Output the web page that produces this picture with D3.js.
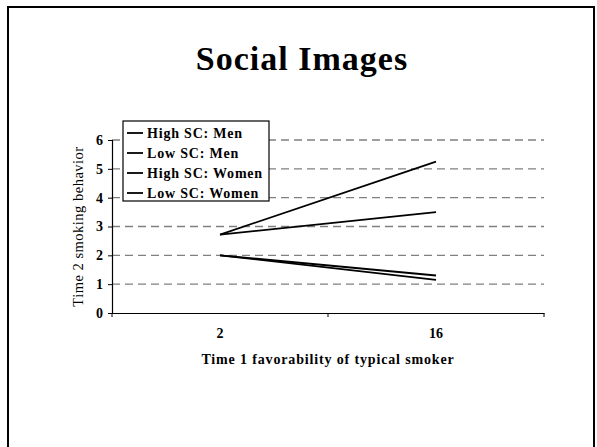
<!DOCTYPE html>
<html>
<head>
<meta charset="utf-8">
<script src="https://cdn.jsdelivr.net/npm/d3@7"></script>
<style>
  body { margin: 0; background: #fff; }
  text { font-family: "Liberation Serif", "Times New Roman", serif; font-weight: bold; fill: #000; }
</style>
</head>
<body>
<div id="chart"></div>
<script>
const categories = ["2", "16"];
const seriesNames = ["High SC: Men", "Low SC: Men", "High SC: Women", "Low SC: Women"];
const highMen = [2.72, 3.5];
const lowMen = [2.0, 1.15];
const highWomen = [2.72, 5.25];
const lowWomen = [2.0, 1.3];
const yTicks = [0, 1, 2, 3, 4, 5, 6];

const series = [highMen, lowMen, highWomen, lowWomen];

const width = 597, height = 447;
const margin = {left: 112, right: 53, top: 140, bottom: 134};

const svg = d3.select("#chart").append("svg")
    .attr("width", width)
    .attr("height", height);

// slide frame
svg.append("rect")
    .attr("x", 8).attr("y", 7)
    .attr("width", 586).attr("height", 460)
    .attr("fill", "none")
    .attr("stroke", "#000")
    .attr("stroke-width", 2);

svg.append("text")
    .attr("x", 302).attr("y", 70)
    .attr("text-anchor", "middle")
    .attr("font-size", 34)
    .attr("letter-spacing", 1)
    .text("Social Images");

const x = d3.scaleBand()
    .domain(categories)
    .range([margin.left, width - margin.right]);

const y = d3.scaleLinear()
    .domain([0, 6])
    .range([height - margin.bottom, margin.top]);

// dashed gridlines
svg.append("g")
    .selectAll("line")
    .data(yTicks.filter(d => d > 0))
    .join("line")
    .attr("x1", margin.left)
    .attr("x2", width - margin.right)
    .attr("y1", d => y(d))
    .attr("y2", d => y(d))
    .attr("stroke", "#808080")
    .attr("stroke-width", 1.3)
    .attr("stroke-dasharray", "8,5");

// y axis
const yAxis = svg.append("g")
    .attr("transform", `translate(${margin.left},0)`)
    .call(d3.axisLeft(y).tickValues(yTicks).tickSize(4).tickPadding(5).tickFormat(d3.format("d")));
yAxis.selectAll("text").attr("font-size", 14);

// x axis with ticks at category boundaries
const xAxis = svg.append("g")
    .attr("transform", `translate(0,${y(0)})`)
    .call(d3.axisBottom(x).tickSize(0).tickPadding(15));
xAxis.selectAll("text").attr("font-size", 14);
xAxis.selectAll(".boundary")
    .data(d3.range(categories.length + 1))
    .join("line")
    .attr("class", "boundary")
    .attr("x1", i => margin.left + i * x.step())
    .attr("x2", i => margin.left + i * x.step())
    .attr("y1", 0).attr("y2", 4)
    .attr("stroke", "#000");

svg.selectAll(".domain").attr("stroke", "#000").attr("stroke-width", 1.2);

svg.append("text")
    .attr("x", (margin.left + width - margin.right) / 2)
    .attr("y", 364)
    .attr("text-anchor", "middle")
    .attr("font-size", 14)
    .attr("letter-spacing", 0.85)
    .text("Time 1 favorability of typical smoker");

svg.append("text")
    .attr("transform", `translate(83,${(y(0) + y(6)) / 2}) rotate(-90)`)
    .attr("text-anchor", "middle")
    .attr("font-size", 14.5)
    .style("font-weight", "normal")
    .attr("letter-spacing", 0.5)
    .text("Time 2 smoking behavior");

// series lines
const line = d3.line()
    .x((d, i) => x(categories[i]) + x.bandwidth() / 2)
    .y(d => y(d));

svg.append("g")
    .selectAll("path")
    .data(series)
    .join("path")
    .attr("d", line)
    .attr("fill", "none")
    .attr("stroke", "#000")
    .attr("stroke-width", 1.8);

// legend
const legend = svg.append("g").attr("transform", "translate(123,121)");
legend.append("rect")
    .attr("width", 146).attr("height", 80)
    .attr("fill", "#fff")
    .attr("stroke", "#000")
    .attr("stroke-width", 1.2);
const item = legend.selectAll(".item")
    .data(seriesNames)
    .join("g")
    .attr("class", "item")
    .attr("transform", (d, i) => `translate(0,${12 + i * 20})`);
item.append("line")
    .attr("x1", 4).attr("x2", 20)
    .attr("stroke", "#000").attr("stroke-width", 1.8);
item.append("text")
    .attr("x", 24).attr("dy", "0.35em")
    .attr("font-size", 14)
    .attr("letter-spacing", 0.8)
    .text(d => d);
</script>
</body>
</html>
